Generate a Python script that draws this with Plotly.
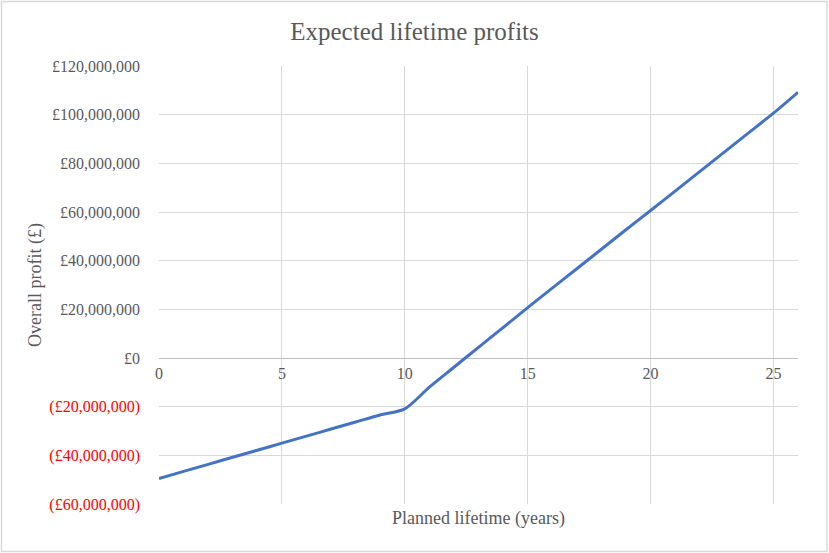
import plotly.graph_objects as go

# Data
years = list(range(0, 27))
profit_millions = [-49.5, -46.6, -43.7, -40.8, -37.9, -35.0, -32.1, -29.2, -26.3, -23.4,
                   -20.9, -12.0, -3.8, 4.4, 12.5, 20.7, 28.7, 36.7, 44.7, 52.7,
                   60.6, 68.6, 76.6, 84.6, 92.6, 100.6, 109.2]
profit = [v * 1e6 for v in profit_millions]

y_ticks = [-60e6, -40e6, -20e6, 0, 20e6, 40e6, 60e6, 80e6, 100e6, 120e6]
y_tick_labels = ["(£60,000,000)", "(£40,000,000)", "(£20,000,000)", "£0",
                 "£20,000,000", "£40,000,000", "£60,000,000", "£80,000,000",
                 "£100,000,000", "£120,000,000"]
x_ticks = [0, 5, 10, 15, 20, 25]

FONT = "Liberation Serif, Times New Roman, serif"
GRAY = "#595959"
GRID = "#d9d9d9"

def fmt(v, label):
    if v < 0:
        return '<span style="color:#ff0000">' + label + '</span>'
    return label

fig = go.Figure()
fig.add_trace(go.Scatter(
    x=years, y=profit, mode="lines",
    line=dict(color="#4472C4", width=3, shape="spline", smoothing=0.8),
    showlegend=False, hoverinfo="skip",
))

W, H = 829, 553
ml, mr, mt, mb = 159, 31, 66, 49
pw, ph = W - ml - mr, H - mt - mb
ymin, ymax = -60e6, 120e6
zero_frac = (0 - ymin) / (ymax - ymin)

fig.update_layout(
    width=W, height=H,
    margin=dict(l=ml, r=mr, t=mt, b=mb),
    paper_bgcolor="white", plot_bgcolor="white",
    font=dict(family=FONT, color=GRAY, size=16),
    title=dict(text="Expected lifetime profits", x=0.5, xref="container", xanchor="center",
               y=1 - 31 / H, yref="container", yanchor="middle",
               font=dict(family=FONT, size=25, color=GRAY)),
    xaxis=dict(range=[0, 26], tickvals=x_ticks, showgrid=True, gridcolor=GRID,
               gridwidth=1, zeroline=False, showline=False, ticks="",
               anchor="free", position=zero_frac, tickfont=dict(size=16, color=GRAY),
               ticklabelstandoff=4),
    yaxis=dict(range=[ymin, ymax], tickvals=y_ticks,
               ticktext=[fmt(v, l) for v, l in zip(y_ticks, y_tick_labels)],
               showgrid=True, gridcolor=GRID, gridwidth=1,
               zeroline=True, zerolinecolor="#bfbfbf", zerolinewidth=1,
               showline=False, ticks="", tickfont=dict(size=16, color=GRAY),
               ticklabelstandoff=18),
    shapes=[dict(type="rect", xref="paper", yref="paper",
                 x0=(1.5 - ml) / pw, x1=(827 - ml) / pw,
                 y0=-(H - mt - 1.5 - ph) / ph, y1=1 + (mt - 1.5) / ph,
                 line=dict(color=GRID, width=1.5), fillcolor="rgba(0,0,0,0)", layer="below")],
    annotations=[
        dict(text="Planned lifetime (years)", xref="paper", yref="paper",
             x=(478 - ml) / pw, y=-(518 - (mt + ph)) / ph, xanchor="center", yanchor="middle",
             showarrow=False, font=dict(family=FONT, size=18, color=GRAY)),
        dict(text="Overall profit (£)", xref="paper", yref="paper",
             x=-(ml - 35) / pw, y=0.5, xanchor="center", yanchor="middle", textangle=-90,
             showarrow=False, font=dict(family=FONT, size=18, color=GRAY)),
    ],
)

fig.write_html("out.html")
